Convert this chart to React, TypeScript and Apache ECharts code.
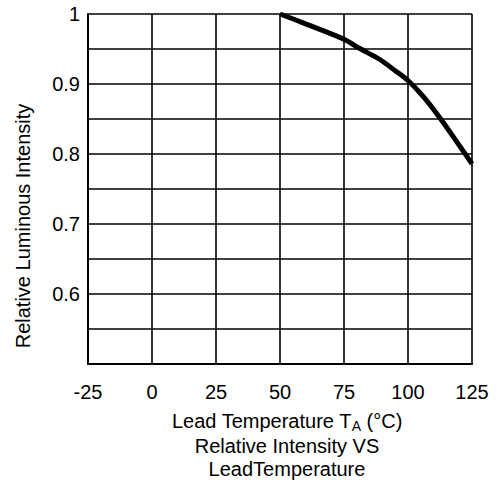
import React, { useEffect, useRef } from "react";
import * as echarts from "echarts";

const temperatures = [50, 60, 75, 81, 89, 95, 100, 106, 112, 118, 125];
const intensity = [1.0, 0.986, 0.964, 0.951, 0.935, 0.919, 0.905, 0.882, 0.854, 0.823, 0.786];
const xTicks = [-25, 0, 25, 50, 75, 100, 125];
const yLabels = [0.6, 0.7, 0.8, 0.9, 1];

const FONT = "'Liberation Sans', Arial, Helvetica, sans-serif";

export default function App() {
  const ref = useRef<HTMLDivElement>(null);
  useEffect(() => {
    if (!ref.current) return;
    const chart = echarts.init(ref.current, null, { renderer: "svg" });
    chart.setOption({
      animation: false,
      backgroundColor: "#ffffff",
      grid: { left: 88, right: 26, top: 14, bottom: 119, containLabel: false },
      xAxis: {
        type: "value",
        min: xTicks[0],
        max: xTicks[xTicks.length - 1],
        interval: 25,
        axisLine: { show: true, onZero: false, lineStyle: { color: "#000", width: 2 } },
        axisTick: { show: false },
        splitLine: { show: true, lineStyle: { color: "#000", width: 1.6 } },
        axisLabel: { color: "#000", fontSize: 20, fontFamily: FONT, margin: 18 },
      },
      yAxis: {
        type: "value",
        min: 0.5,
        max: 1,
        interval: 0.05,
        axisLine: { show: true, onZero: false, lineStyle: { color: "#000", width: 2 } },
        axisTick: { show: false },
        splitLine: { show: true, lineStyle: { color: "#000", width: 1.6 } },
        axisLabel: {
          color: "#000",
          fontSize: 20,
          fontFamily: FONT,
          margin: 8,
          formatter: (v: number) => {
            const hit = yLabels.find((l) => Math.abs(l - v) < 1e-6);
            return hit !== undefined ? String(hit) : "";
          },
        },
      },
      graphic: [
        {
          type: "text",
          x: 23,
          y: 226,
          rotation: Math.PI / 2,
          style: {
            text: "Relative Luminous Intensity",
            font: `20px ${FONT}`,
            fill: "#000",
            textAlign: "center",
            textVerticalAlign: "middle",
          },
        },
        {
          type: "text",
          x: 287,
          y: 421,
          style: {
            text: "{n|Lead Temperature T}{s|A}{n| (°C)}",
            rich: {
              n: { fontSize: 20, fontFamily: FONT, fill: "#000", color: "#000" },
              s: { fontSize: 14, fontFamily: FONT, fill: "#000", color: "#000", padding: [10, 0, 0, 0] },
            },
            textAlign: "center",
            textVerticalAlign: "middle",
          },
        },
        {
          type: "text",
          x: 287,
          y: 446,
          style: {
            text: "Relative Intensity VS",
            font: `20px ${FONT}`,
            fill: "#000",
            textAlign: "center",
            textVerticalAlign: "middle",
          },
        },
        {
          type: "text",
          x: 287,
          y: 469,
          style: {
            text: "LeadTemperature",
            font: `20px ${FONT}`,
            fill: "#000",
            textAlign: "center",
            textVerticalAlign: "middle",
          },
        },
      ],
      series: [
        {
          type: "line",
          data: temperatures.map((t, i) => [t, intensity[i]]),
          smooth: 0.3,
          symbol: "none",
          lineStyle: { color: "#000", width: 5 },
        },
      ],
    });
    return () => chart.dispose();
  }, []);
  return (
    <div
      ref={ref}
      style={{ position: "fixed", left: 0, top: 0, width: 498, height: 483 }}
    />
  );
}
